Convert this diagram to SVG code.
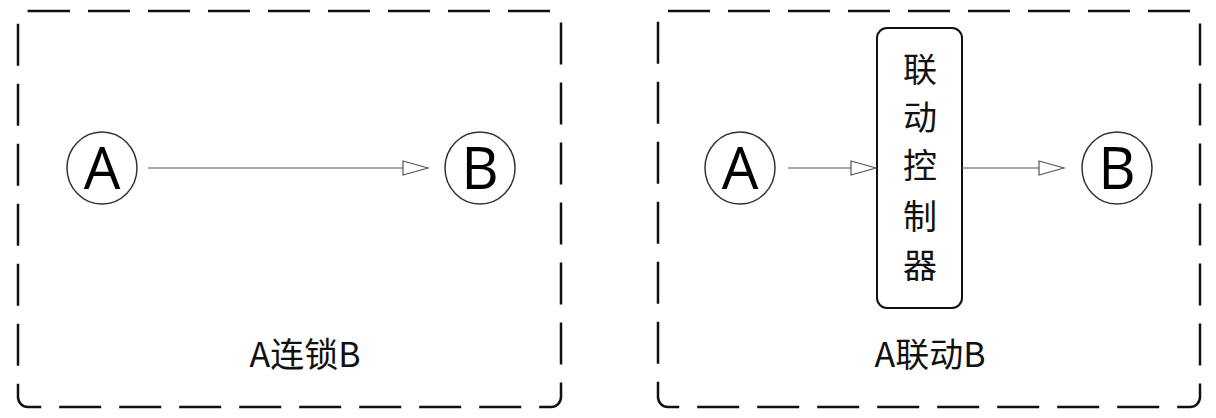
<svg xmlns="http://www.w3.org/2000/svg" width="1216" height="418" viewBox="0 0 1216 418">
<style>
.frame{fill:none;stroke:#111;stroke-width:2.5;stroke-dasharray:42,18}
.circ{fill:#fff;stroke:#333;stroke-width:1.5}
.ltr{font-family:"Open Sans","Noto Sans",sans-serif;font-size:58px;fill:#000;text-anchor:middle}
.cn{font-family:"Noto Sans CJK SC",sans-serif;fill:#111;text-anchor:middle}
.ch{font-family:"Noto Sans CJK SC",sans-serif;fill:#111;text-anchor:middle;font-size:34px}
.conn{stroke:#555;stroke-width:1.2;fill:none}
</style>
<defs><marker id="ah" markerWidth="28" markerHeight="16" refX="26" refY="8" orient="auto" markerUnits="userSpaceOnUse"><path d="M1,1 L26,8 L1,15 Z" fill="#fff" stroke="#555" stroke-width="1.2"/></marker></defs>
<rect class="frame" x="18" y="11" width="543" height="396" rx="10"/>
<rect class="frame" x="658" y="11" width="542" height="396" rx="10"/>
<g id="A1"><ellipse class="circ" cx="102" cy="168" rx="35" ry="36"/><text class="ltr" x="102" y="189">A</text></g>
<g id="B1"><ellipse class="circ" cx="480" cy="168" rx="35" ry="36"/><text class="ltr" x="480" y="189">B</text></g>
<g id="A2"><ellipse class="circ" cx="740" cy="168" rx="35" ry="36"/><text class="ltr" x="740" y="189">A</text></g>
<g id="B2"><ellipse class="circ" cx="1117" cy="168" rx="35" ry="36"/><text class="ltr" x="1117" y="189">B</text></g>
<g id="ctrl"><rect x="877" y="28" width="85" height="280" rx="10" fill="#fff" stroke="#111" stroke-width="2"/>
<text class="ch" x="920" y="82">联</text><text class="ch" x="920" y="130">动</text><text class="ch" x="920" y="178">控</text><text class="ch" x="920" y="229">制</text><text class="ch" x="920" y="278">器</text></g>
<g id="connectors">
<line class="conn" x1="148" y1="168" x2="428" y2="168" marker-end="url(#ah)"/>
<line class="conn" x1="788" y1="168" x2="876" y2="168" marker-end="url(#ah)"/>
<line class="conn" x1="962" y1="168" x2="1064" y2="168" marker-end="url(#ah)"/>
</g>
<text class="cn" font-size="34" x="305" y="367">A连锁B</text>
<text class="cn" font-size="34" x="930" y="367">A联动B</text>
</svg>
